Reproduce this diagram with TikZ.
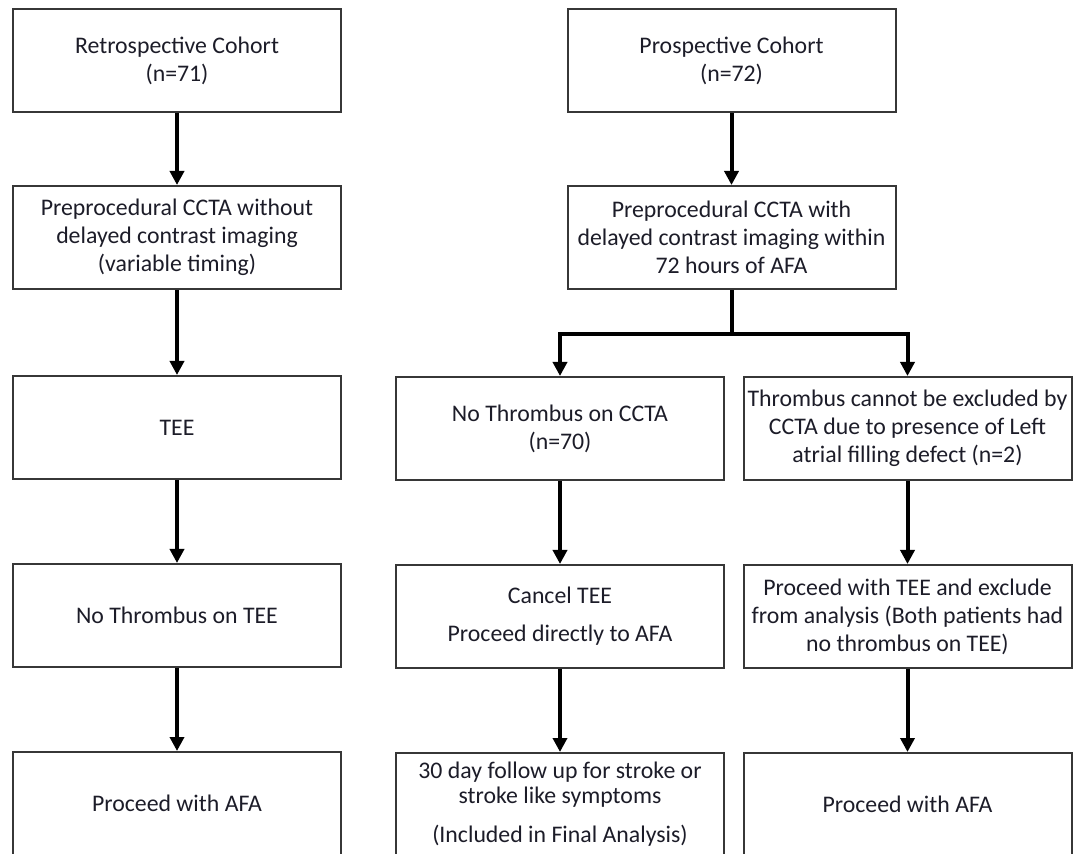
\documentclass[tikz,border=0pt]{standalone}
\usepackage{fontspec}
\setmainfont{Carlito}
\usetikzlibrary{arrows.meta, positioning}
\definecolor{inkc}{RGB}{28,28,40}
\definecolor{framec}{RGB}{55,55,55}

\begin{document}
\begin{tikzpicture}[
    x=0.5pt, y=-0.5pt,
    node distance=41.5pt,
    stage/.style={rectangle, draw=framec, line width=1pt, text=inkc, align=center,
        minimum width=164pt, minimum height=51.5pt, inner sep=0pt,
        font=\fontsize{11.9}{14}\selectfont},
    flow/.style={draw, line width=2pt, -{Triangle[length=7pt, width=7pt]}}
]
\useasboundingbox (0,0) rectangle (1081,854);

% retrospective arm
\node[stage] (retro) at (177,60.5) {Retrospective Cohort\\(n=71)};
\node[stage] (pre1) [below=36pt of retro] {Preprocedural CCTA without\\delayed contrast imaging\\(variable timing)};
\node[stage] (tee1) [below=42.5pt of pre1] {TEE};
\node[stage] (nothr1) [below=of tee1] {No Thrombus on TEE};
\node[stage] (afa1) [below=of nothr1] {Proceed with AFA};

% prospective arm
\node[stage] (prosp) at (731.5,60.5) {Prospective Cohort\\(n=72)};
\node[stage] (pre2) [below=36pt of prosp] {Preprocedural CCTA with\\delayed contrast imaging within\\72 hours of AFA};

\node[stage] (nocta) at (560,428.5) {No Thrombus on CCTA\\(n=70)};
\node[stage] (cancel) [below=of nocta] {Cancel TEE\\[5pt]Proceed directly to AFA};
\node[stage] (follow) [below=of cancel] {30 day follow up for stroke or\\[-1.5pt]stroke like symptoms\\[5.5pt](Included in Final Analysis)};

\node[stage] (excl) at (907.5,428.5) {Thrombus cannot be excluded by\\CCTA due to presence of Left\\atrial filling defect (n=2)};
\node[stage] (tee2) [below=of excl] {Proceed with TEE and exclude\\from analysis (Both patients had\\no thrombus on TEE)};
\node[stage] (afa2) [below=of tee2] {Proceed with AFA};

\coordinate (split) at (731.5,334);

\draw[flow] (retro) -- (pre1);
\draw[flow] (pre1) -- (tee1);
\draw[flow] (tee1) -- (nothr1);
\draw[flow] (nothr1) -- (afa1);

\draw[flow] (prosp) -- (pre2);
\draw[line width=2pt] (pre2) -- (split);
\draw[flow] (split) -| (nocta);
\draw[flow] (split) -| (excl);

\draw[flow] (nocta) -- (cancel);
\draw[flow] (cancel) -- (follow);
\draw[flow] (excl) -- (tee2);
\draw[flow] (tee2) -- (afa2);

\end{tikzpicture}
\end{document}
